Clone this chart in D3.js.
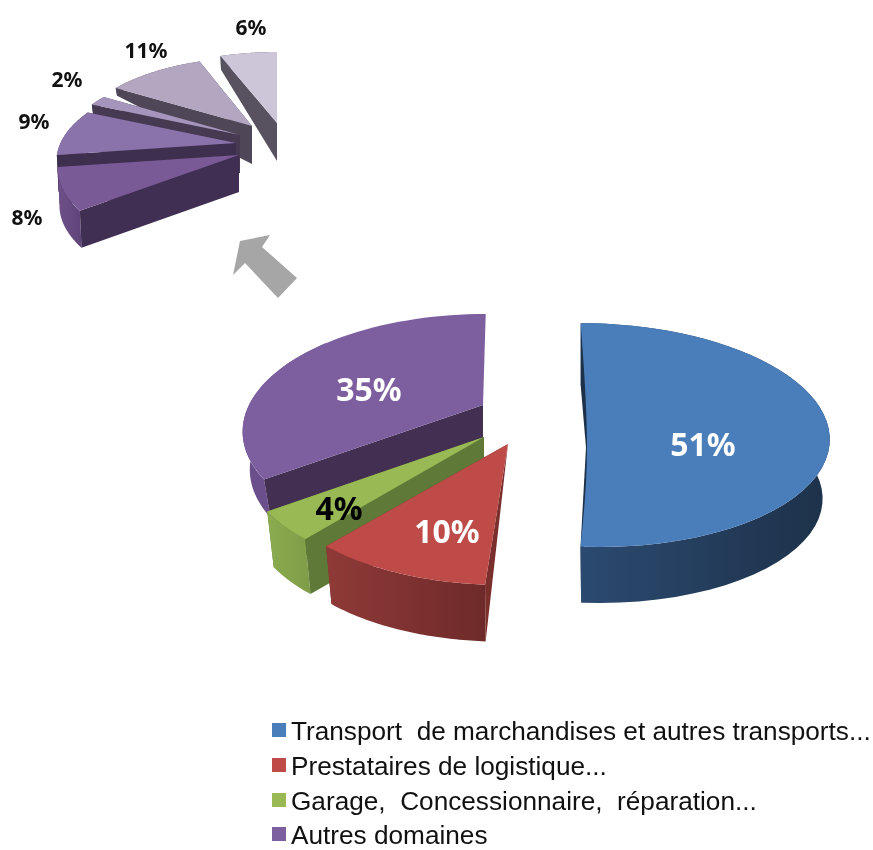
<!DOCTYPE html>
<html><head><meta charset="utf-8">
<script src="https://cdn.jsdelivr.net/npm/d3@7/dist/d3.min.js"></script>
<style>html,body{margin:0;padding:0;background:#fff}svg{display:block;filter:blur(.5px)}</style>
</head><body><svg id="c" width="873" height="850"></svg>
<script>
// ---- data ----
const mainCategories = ["Transport  de marchandises et autres transports...", "Prestataires de logistique...", "Garage,  Concessionnaire,  réparation...", "Autres domaines"];
const mainValues = [51, 10, 4, 35];
const subValues = [8, 9, 2, 11, 6];

// ---- layout and style ----
const W = 873, H = 850;
const mainColors = ["#4a7ebb", "#be4b48", "#98b954", "#7d5fa0"];
const subColors = ["#7a5a96", "#8a72aa", "#a594bb", "#b3a6c1", "#ccc6d8"];
const mainLayout = [
  {apex:[588,411], shear:.08,  sy:.965, depth:60, sb:.97, taper:-.03, wall:["#2b4a70","#1d3149"], side:"#1d3149", label:[703,443], tc:"#fff"},
  {apex:[508,444], shear:-.03, apexDepth:0, depth:61, sb:.97, taper:-.03, wall:["#8f3a37","#6e2a2a"], side:"#7a2f2d", label:[447,530], tc:"#fff"},
  {apex:[484,437], shear:0,    depth:58, sb:.97, taper:-.03, wall:["#8bac4f","#7f9c47"], side:"#5f7a38", label:[339,507], tc:"#000"},
  {apex:[483,405], shear:-.03, noEnd:true, wallSpan:.6, depth:38, sb:.97, taper:0, wall:["#6a4f8c","#6a4f8c"], side:"#422f51", label:[369,388], tc:"#fff"}
];
const subLayout = [
  {apex:[239,155], shear:.12, sx:1.02, depth:37, sb:.99, taper:0, wall:["#6f5089","#5f4478"], side:"#402f52", label:[27,217]},
  {apex:[236,143], depth:37, sb:.99, taper:0,   wall:["#6f5089","#5f4478"], side:"#3e2f4e", label:[34,121]},
  {apex:[240,135], depth:38, sb:.99, taper:.87, wall:["#554a62","#554a62"], side:"#453a52", label:[67,79]},
  {apex:[252,126], depth:38, sb:.99, taper:.8,  wall:["#554a62","#554a62"], side:"#4f4758", label:[146,50]},
  {apex:[277,123], sx:1.08, sy:1.04, depth:38, sb:.99, taper:.36, wall:["#5a5463","#5a5463"], side:"#575160", label:[251,27]}
];
const legendBaselines = [740, 775, 810, 844];
const A = 234, B = 110.6, K = 0.2155, SUB_SCALE = .75, MIN_DEPTH = 5;

const svg = d3.select("#c");
const defs = svg.append("defs");
const line = d3.line();
const project = th => {
  const X = Math.sin(th), Z = -Math.cos(th), den = 1 - K * Z;
  return [A * X / den, B * Z / den];
};
const sample = (a, b, n = 48) => d3.range(n + 1).map(i => a + (b - a) * i / n);

let gid = 0;
function drawSlice(g, arc, cfg, color, s) {
  const shear = cfg.shear || 0, sx = s * (cfg.sx || 1), sy = s * (cfg.sy || 1);
  const [ax, ay] = cfg.apex;
  const top = th => { const [x, y] = project(th); return [ax + sx * x + shear * s * y, ay + sy * y]; };
  const bot = th => {
    const [x, y] = project(th);
    const d = Math.max(MIN_DEPTH, cfg.depth + cfg.taper * sy * y);
    return [ax + cfg.sb * sx * x + shear * s * y, ay + sy * y + d];
  };
  const ths = sample(arc.startAngle, arc.endAngle);
  const wallThs = sample(arc.startAngle, arc.startAngle + (arc.endAngle - arc.startAngle) * (cfg.wallSpan || 1));
  const apexTop = [ax, ay], apexBot = [ax, ay + (cfg.apexDepth ?? cfg.depth)];
  const id = "w" + (gid++);
  const lg = defs.append("linearGradient").attr("id", id);
  lg.append("stop").attr("offset", 0).attr("stop-color", cfg.wall[0]);
  lg.append("stop").attr("offset", 1).attr("stop-color", cfg.wall[1]);
  // end-edge wall
  if (!cfg.noEnd) g.append("path").attr("fill", cfg.side)
    .attr("d", line([apexTop, top(arc.endAngle), bot(arc.endAngle), apexBot]) + "Z");
  // outer wall
  g.append("path").attr("fill", `url(#${id})`)
    .attr("d", line(wallThs.map(top).concat(wallThs.slice().reverse().map(bot))) + "Z");
  // start-edge wall
  g.append("path").attr("fill", cfg.side)
    .attr("d", line([apexTop, top(arc.startAngle), bot(arc.startAngle), apexBot]) + "Z");
  // top face
  let d;
  if (cfg.inner) {
    d = line(ths.map(top)) + d3.line().curve(d3.curveNatural)([top(arc.endAngle), [ax + cfg.inner[0], ay + cfg.inner[1]], top(arc.startAngle)]).replace(/^M[^CLQ]*/, "") + "Z";
  } else {
    d = line(ths.map(top).concat([apexTop])) + "Z";
  }
  g.append("path").attr("fill", color).attr("d", d);
}

const mainArcs = d3.pie().sort(null).value(d => d)(mainValues);
const subArcs = d3.pie().sort(null).value(d => d)
  .startAngle(mainArcs[3].startAngle).endAngle(mainArcs[3].endAngle)(subValues);

// arrow (annotation)
svg.append("path").attr("fill", "#a6a6a6")
  .attr("d", line([[240,241],[270,235],[262,247],[297,278],[278,298],[245,263],[233,275]]) + "Z");

// sub pie: back to front
const gs = svg.append("g");
[4,3,2,1,0].forEach(i => drawSlice(gs, subArcs[i], subLayout[i], subColors[i], SUB_SCALE));
subValues.forEach((v, i) => {
  svg.append("text").attr("x", subLayout[i].label[0]).attr("y", subLayout[i].label[1])
    .attr("text-anchor", "middle").attr("dominant-baseline", "central")
    .attr("font-family", "'Noto Sans'").attr("font-weight", 700).attr("font-size", 21)
    .attr("fill", "#111").text(v + "%");
});

// main pie
const gm = svg.append("g");
mainLayout[0].inner = [-1, 35];
[0,3,2,1].forEach(i => drawSlice(gm, mainArcs[i], mainLayout[i], mainColors[i], 1));
mainValues.forEach((v, i) => {
  svg.append("text").attr("x", mainLayout[i].label[0]).attr("y", mainLayout[i].label[1])
    .attr("text-anchor", "middle").attr("dominant-baseline", "central")
    .attr("font-family", "'Noto Sans'").attr("font-weight", 700).attr("font-size", 32)
    .attr("fill", mainLayout[i].tc).text(v + "%");
});

// legend
const legendY = d3.scaleOrdinal().domain(mainCategories).range(legendBaselines);
const leg = svg.append("g").selectAll("g").data(mainCategories).join("g")
  .attr("transform", d => `translate(272,${legendY(d)})`);
leg.append("rect").attr("x", 0).attr("y", -17).attr("width", 14).attr("height", 14)
  .attr("fill", (d, i) => mainColors[i]);
leg.append("text").attr("x", 19).attr("y", 0)
  .attr("font-family", "'Liberation Sans'").attr("font-size", 26.2).attr("fill", "#111")
  .attr("xml:space", "preserve").style("white-space", "pre").text(d => d);
</script></body></html>
